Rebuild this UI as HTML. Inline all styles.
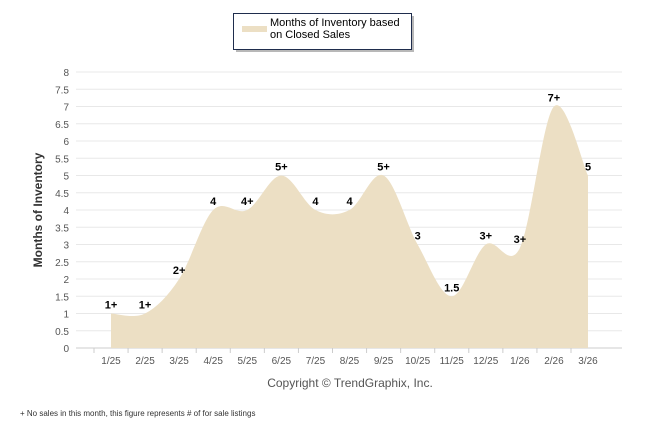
<!DOCTYPE html>
<html><head><meta charset="utf-8"><style>
body{margin:0;background:#fff;font-family:"Liberation Sans",sans-serif}
svg{display:block}
</style></head><body>
<svg width="646" height="434">
<g id="grid"></g>
<g id="area"></g>
<g id="ylabels"></g>
<g id="xlabels"></g>
<g id="vlabels"></g>
<text x="42" y="210" transform="rotate(-90 42 210)" text-anchor="middle" font-size="12" font-weight="bold" fill="#333">Months of Inventory</text>
<g>
<rect x="236" y="16" width="178" height="36" fill="#333" opacity="0.35"/>
<rect x="233.5" y="13.5" width="178" height="36" fill="#fff" stroke="#1f2d4d" stroke-width="1"/>
<rect x="242" y="26" width="25" height="6" fill="#ecdfc4"/>
<text x="270" y="26" font-size="11" fill="#000">Months of Inventory based</text>
<text x="270" y="38" font-size="11" fill="#000">on Closed Sales</text>
</g>
<text x="350" y="387" text-anchor="middle" font-size="12" fill="#555">Copyright © TrendGraphix, Inc.</text>
<text x="20" y="416" font-size="8" fill="#333">+  No sales in this month, this figure represents # of for sale listings</text>
</svg>
<script>
const categories=["1/25","2/25","3/25","4/25","5/25","6/25","7/25","8/25","9/25","10/25","11/25","12/25","1/26","2/26","3/26"];
const values=[1,1,2,4,4,5,4,4,5,3,1.5,3,2.9,7,5];
const pointLabels=["1+","1+","2+","4","4+","5+","4","4","5+","3","1.5","3+","3+","7+","5"];
const yTicks=[0,0.5,1,1.5,2,2.5,3,3.5,4,4.5,5,5.5,6,6.5,7,7.5,8];
const NS="http://www.w3.org/2000/svg";
const X=i=>111+i*(588-111)/(categories.length-1);
const Y=v=>348-v*34.5;
function mk(tag,attrs,parent,txt){const e=document.createElementNS(NS,tag);for(const k in attrs)e.setAttribute(k,attrs[k]);if(txt!==undefined)e.textContent=txt;parent.appendChild(e);return e;}
const grid=document.getElementById('grid'),yl=document.getElementById('ylabels'),xl=document.getElementById('xlabels'),vl=document.getElementById('vlabels'),ar=document.getElementById('area');
yTicks.forEach(t=>{
 const l=mk('line',{x1:76,x2:622,y1:Y(t),y2:Y(t),stroke:t===0?'#ccc':'#e8e8e8','stroke-width':1},grid);
 
 
 const tx=mk('text',{x:69,y:Y(t)+4,'text-anchor':'end','font-size':10,fill:'#555'},yl,String(t));
 
 
});
categories.forEach((c,i)=>{
 const tk=mk('line',{x1:X(i)-17,x2:X(i)-17,y1:348,y2:353,stroke:'#ccc'},grid);
 
 
 const tx=mk('text',{x:X(i),y:364,'text-anchor':'middle','font-size':10,fill:'#555'},xl,c);
 
 
});
const pts=values.map((v,i)=>[X(i),Y(v)]);
let d=`M${pts[0][0]},348 L${pts[0][0]},${pts[0][1]}`;
for(let i=0;i<pts.length-1;i++){
 const p0=pts[Math.max(i-1,0)],p1=pts[i],p2=pts[i+1],p3=pts[Math.min(i+2,pts.length-1)];
 const k=1/6;
 d+=` C${p1[0]+(p2[0]-p0[0])*k},${p1[1]+(p2[1]-p0[1])*k} ${p2[0]-(p3[0]-p1[0])*k},${p2[1]-(p3[1]-p1[1])*k} ${p2[0]},${p2[1]}`;
}
d+=` L${pts[pts.length-1][0]},348 Z`;
const path=mk('path',{d:d,fill:'#ecdfc4'},ar);


values.forEach((v,i)=>{
 const tx=mk('text',{x:X(i),y:Y(v)-5,'text-anchor':'middle','font-size':11,'font-weight':'bold',fill:'#000'},vl,pointLabels[i]);
 
 
});
</script>
</body></html>
